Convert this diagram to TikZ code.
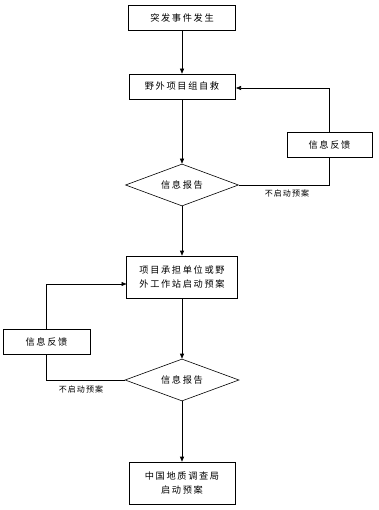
\documentclass[tikz,border=0pt]{standalone}
\usepackage{fontspec}
\setmainfont{Noto Sans CJK SC}[LetterSpace=18]
\newfontfamily\smallcjk{Noto Sans CJK SC}[LetterSpace=14]
\usetikzlibrary{shapes.geometric,arrows.meta}
\begin{document}
\begin{tikzpicture}[x=1pt,y=-1pt,
  every node/.style={font=\fontsize{9.2}{14}\selectfont},
  box/.style={draw,line width=0.6pt,inner sep=0pt,align=center},
  dia/.style={draw,diamond,line width=0.6pt,inner sep=0pt,aspect=2.7},
  conn/.style={line width=0.6pt},
  arr/.style={conn,-{Triangle[length=5pt,width=4pt]}},
  lbl/.style={font=\smallcjk\fontsize{8}{9}\selectfont,inner sep=0pt}]
\useasboundingbox (0,0) rectangle (379,510);
\node[box,minimum width=107,minimum height=25] (b1) at (182,17.5) {突发事件发生};
\node[box,minimum width=106,minimum height=25] (b2) at (182,86.5) {野外项目组自救};
\node[dia,minimum width=113,minimum height=42] (d1) at (182,185) {信息报告};
\node[box,minimum width=85,minimum height=25] (f1) at (329.5,144.5) {信息反馈};
\node[box,minimum width=111,minimum height=42,align=left] (b3) at (182,277) {项目承担单位或野\\外工作站启动预案};
\node[dia,minimum width=114,minimum height=42] (d2) at (182,380) {信息报告};
\node[box,minimum width=87,minimum height=25] (f2) at (46.5,342) {信息反馈};
\node[box,minimum width=106,minimum height=42] (b4) at (182,483) {中国地质调查局\\启动预案};
\node[lbl] (l1) at (287,193) {不启动预案};
\node[lbl] (l2) at (81,389) {不启动预案};
\coordinate (in2) at (236,88);
\coordinate (in3) at (126.5,284);
\draw[arr] (b1) -- (b2);
\draw[arr] (b2) -- (d1);
\draw[conn] (d1.east) -| (f1.south);
\draw[arr] (f1.north) |- (in2);
\draw[arr] (d1) -- (b3);
\draw[arr] (b3) -- (d2);
\draw[conn] (d2.west) -| (f2.south);
\draw[arr] (f2.north) |- (in3);
\draw[arr] (d2) -- (b4);
\end{tikzpicture}
\end{document}
